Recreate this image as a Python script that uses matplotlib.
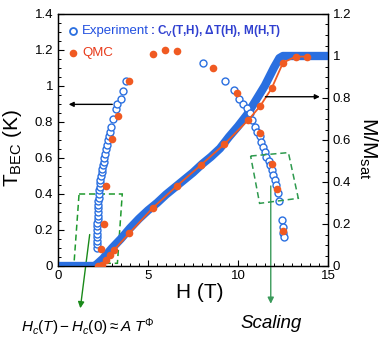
import matplotlib
matplotlib.use("Agg")
import matplotlib.pyplot as plt
from matplotlib.patches import Polygon
from matplotlib.ticker import MultipleLocator

plt.rcParams['font.family'] = ['Liberation Sans', 'DejaVu Sans']
plt.rcParams['mathtext.fontset'] = 'custom'
plt.rcParams['mathtext.rm'] = 'Liberation Sans'
plt.rcParams['mathtext.it'] = 'Liberation Sans:italic'
plt.rcParams['mathtext.bf'] = 'Liberation Sans:bold'

BLUE = '#2a6fe0'
RED = '#f05a22'

# ---- Experiment: T_BEC phase boundary (left axis) ----
exp_left_H = [2.15, 2.16, 2.17, 2.17, 2.18, 2.18, 2.19, 2.19, 2.20, 2.20, 2.21, 2.22,
              2.23, 2.24, 2.25, 2.27, 2.29, 2.31, 2.33, 2.36, 2.39, 2.42, 2.45, 2.49,
              2.53, 2.57, 2.62, 2.67, 2.72, 2.77, 2.84, 2.90, 2.95, 3.07, 3.22, 3.30,
              3.48, 3.63, 3.78]
exp_left_T = [0.10, 0.12, 0.14, 0.16, 0.18, 0.20, 0.22, 0.24, 0.26, 0.28, 0.30, 0.32,
              0.34, 0.36, 0.38, 0.40, 0.42, 0.44, 0.46, 0.48, 0.50, 0.52, 0.54, 0.56,
              0.58, 0.60, 0.625, 0.65, 0.675, 0.70, 0.72, 0.745, 0.77, 0.815, 0.87, 0.90,
              0.928, 0.974, 1.03]
exp_right_H = [8.07, 9.26, 9.76, 10.08, 10.30, 10.50, 10.67, 10.80, 10.94, 11.05, 11.20,
               11.30, 11.40, 11.50, 11.58, 11.70, 11.78, 11.88, 11.97, 12.05, 12.12,
               12.22, 12.30, 12.43, 12.50, 12.52, 12.54]
exp_right_T = [1.128, 1.027, 0.978, 0.925, 0.900, 0.875, 0.850, 0.810, 0.775, 0.746, 0.720,
               0.690, 0.660, 0.635, 0.607, 0.585, 0.560, 0.533, 0.505, 0.478, 0.450,
               0.404, 0.360, 0.256, 0.215, 0.185, 0.160]

# ---- QMC: T_BEC (left axis) ----
qmc_T_H = [2.39, 2.53, 2.66, 3.00, 3.31, 3.96, 5.30, 5.94, 6.59, 8.60, 9.93, 11.20, 11.87, 12.18, 12.50]
qmc_T_T = [0.096, 0.235, 0.444, 0.705, 0.835, 1.03, 1.18, 1.20, 1.196, 1.098, 0.96, 0.737, 0.565, 0.428, 0.195]

# ---- Experiment: magnetization M/Msat (right axis) ----
exp_M_H = [0.0, 0.5, 1.0, 1.5, 2.0, 2.05, 2.5, 3.0, 3.5, 4.0, 4.5, 5.0, 5.5, 6.0, 6.5,
           7.0, 7.5, 8.0, 8.5, 9.0, 9.5, 10.0, 10.5, 11.0, 11.5, 12.0, 12.3, 12.5,
           13.0, 13.5, 14.0, 14.5, 15.0]
exp_M = [0.0, 0.0, 0.0, 0.0, 0.0, 0.0, 0.035, 0.085, 0.13, 0.18, 0.225, 0.265, 0.30, 0.34, 0.375,
         0.41, 0.445, 0.485, 0.52, 0.56, 0.615, 0.665, 0.72, 0.79, 0.86, 0.945, 0.99, 1.0,
         1.0, 1.0, 1.0, 1.0, 1.0]

# ---- QMC: magnetization (right axis) ----
qmc_M_H = [2.20, 2.43, 2.67, 2.89, 3.11, 3.96, 5.26, 6.60, 7.93, 9.24, 10.57, 11.22, 11.87, 12.50, 13.20, 13.85]
qmc_M = [0.0, 0.005, 0.029, 0.052, 0.076, 0.156, 0.276, 0.381, 0.48, 0.58, 0.695, 0.76, 0.846, 0.968, 0.997, 0.997]

fig = plt.figure(figsize=(3.82, 3.42), dpi=100)
ax = fig.add_axes([58/382, 1-266/342, 270/382, 252/342])
ax2 = ax.twinx()

ax.set_xlim(0, 15)
ax.set_ylim(0, 1.4)
ax2.set_ylim(0, 1.2)

# magnetization
ax2.plot(exp_M_H, exp_M, color=BLUE, lw=6.0, solid_capstyle='round', zorder=2)
ax2.plot(qmc_M_H, qmc_M, color=RED, lw=1.3, zorder=3)
ax2.plot(qmc_M_H, qmc_M, 'o', color=RED, ms=5.5, mec='none', zorder=4)

# phase boundary (plotted on the right-axis scale)
for H, T in ((exp_left_H, exp_left_T), (exp_right_H, exp_right_T)):
    ax2.plot(H, [t * 1.2 / 1.4 for t in T], 'o', mfc='white', mec=BLUE, ms=5, mew=1.0, zorder=2.5)
ax2.plot(qmc_T_H, [t * 1.2 / 1.4 for t in qmc_T_T], 'o', color=RED, ms=5.5, mec='none', zorder=4)

# ticks
for a in (ax, ax2):
    a.tick_params(direction='in', labelsize=9.5, length=4.5, width=0.8, which='major')
    a.tick_params(direction='in', length=2.5, width=0.7, which='minor')
ax.xaxis.set_major_locator(MultipleLocator(5))
ax.xaxis.set_minor_locator(MultipleLocator(0.5))
ax.yaxis.set_major_locator(MultipleLocator(0.2))
ax.yaxis.set_minor_locator(MultipleLocator(0.05))
ax2.yaxis.set_major_locator(MultipleLocator(0.2))
ax2.yaxis.set_minor_locator(MultipleLocator(0.05))
ax.tick_params(axis='x', which='both', top=False)
ax.tick_params(axis='y', which='both', right=False)
ax.set_yticks([0, 0.2, 0.4, 0.6, 0.8, 1.0, 1.2, 1.4])
ax.set_yticklabels(['0', '0.2', '0.4', '0.6', '0.8', '1', '1.2', '1.4'])
ax2.set_yticks([0, 0.2, 0.4, 0.6, 0.8, 1.0, 1.2])
ax2.set_yticklabels(['0', '0.2', '0.4', '0.6', '0.8', '1', '1.2'])
ax.tick_params(axis='x', pad=3)
for a in (ax, ax2):
    for s in a.spines.values():
        s.set_linewidth(0.9)

# arrows
ax.annotate('', xy=(0.44, 0.898), xytext=(3.17, 0.898),
            arrowprops=dict(arrowstyle='-|>', color='black', lw=1.0, mutation_scale=7))
ax2.annotate('', xy=(14.7, 0.806), xytext=(11.37, 0.806),
             arrowprops=dict(arrowstyle='-|>', color='black', lw=1.0, mutation_scale=7))

# dashed boxes
ax.add_patch(Polygon([(1.17, 0.40), (3.57, 0.40), (3.30, 0.015), (0.89, 0.015)], closed=True,
                     fill=False, ec='#1f9a2e', ls=(0, (4, 2.5)), lw=1.1, zorder=5))
ax2.add_patch(Polygon([(10.7, 0.611*1.2/1.4), (12.8, 0.63*1.2/1.4), (13.35, 0.376*1.2/1.4), (11.2, 0.348*1.2/1.4)],
                      closed=True, fill=False, ec='#2e9a4e', ls=(0, (4, 2.5)), lw=1.1, zorder=5))

# green arrows going below the axes
ax.annotate('', xy=(1.22, -0.25), xytext=(1.78, 0.19), annotation_clip=False,
            arrowprops=dict(arrowstyle='-|>', color='#1a8a1a', lw=1.0, mutation_scale=9))
ax.annotate('', xy=(11.82, -0.225), xytext=(11.82, 0.46), annotation_clip=False,
            arrowprops=dict(arrowstyle='-|>', color='#3a9a5a', lw=1.0, mutation_scale=9))

# legend (manual)
ax.plot([0.82], [1.307], 'o', mfc='white', mec=BLUE, ms=5, mew=1.3, clip_on=False)
ax.text(1.33, 1.307, 'Experiment', color='#2250e0', fontsize=9.5, va='center', ha='left')
ax.text(5.1, 1.307, r': C$_\mathbf{V}$(T,H), ΔT(H), M(H,T)', color='#3040d0', fontsize=8.5,
        fontweight='bold', va='center', ha='left')
ax.plot([0.82], [1.183], 'o', color=RED, ms=5.5, mec='none', clip_on=False)
ax.text(1.33, 1.183, 'QMC', color='#e83a1a', fontsize=9.5, va='center', ha='left')

# axis labels
fig.text(200/382, 1-292/342, 'H (T)', fontsize=15, ha='center', va='center')
fig.text(13/382, 1-148/342, r'T$_{\rm BEC}$ (K)', fontsize=15, ha='center', va='center', rotation=90)
fig.text(368/382, 1-148/342, r'M/M$_{\rm sat}$', fontsize=15, ha='center', va='center', rotation=270)

fig.text(88/382, 1-327/342, r'$H_c(T) - H_c(0) \approx A\ T^{\Phi}$', fontsize=11, ha='center', va='center')
fig.text(271/382, 1-323/342, 'Scaling', fontsize=13.5, style='italic', ha='center', va='center')

fig.savefig('out.png', dpi=100)
